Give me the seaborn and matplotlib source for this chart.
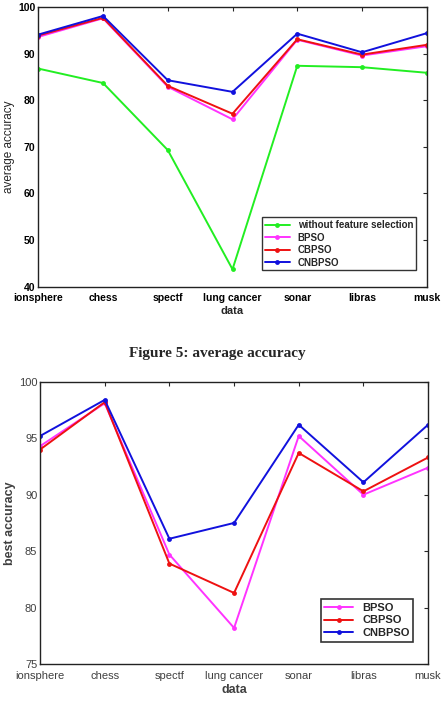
import pandas as pd
import seaborn as sns
import matplotlib.pyplot as plt

datasets = ['ionsphere', 'chess', 'spectf', 'lung cancer', 'sonar', 'libras', 'musk']

avg_nofs = [86.8, 83.7, 69.3, 43.7, 87.4, 87.1, 85.9]
avg_bpso = [93.6, 97.6, 82.9, 75.9, 93.0, 89.6, 91.6]
avg_cbpso = [93.9, 97.7, 83.1, 77.1, 93.1, 89.8, 91.9]
avg_cnbpso = [94.1, 98.1, 84.3, 81.8, 94.3, 90.3, 94.4]

best_bpso = [94.3, 98.1, 84.7, 78.2, 95.2, 90.0, 92.4]
best_cbpso = [94.0, 98.2, 83.9, 81.3, 93.7, 90.3, 93.3]
best_cnbpso = [95.2, 98.4, 86.1, 87.5, 96.2, 91.1, 96.2]

sns.set_style('white')
plt.rcParams['font.family'] = ['Liberation Sans', 'DejaVu Sans']

colors = {'without feature selection': '#22ee22', 'BPSO': '#ff33ff',
          'CBPSO': '#ee1111', 'CNBPSO': '#1111dd'}


def long_df(series):
    rows = []
    for name, vals in series.items():
        for d, v in zip(datasets, vals):
            rows.append({'data': d, 'acc': v, 'method': name})
    return pd.DataFrame(rows)


def style_axes(ax, bold):
    w = 'bold' if bold else 'normal'
    col = 'black' if bold else '#404040'
    for s in ax.spines.values():
        s.set_color('#222222')
        s.set_linewidth(1.0)
    ax.tick_params(direction='in', top=True, right=True, length=3,
                   labelsize=7.5 if bold else 8, labelcolor=col, pad=2)
    ax.tick_params(axis='x', pad=5)
    for lab in ax.get_xticklabels() + ax.get_yticklabels():
        lab.set_fontweight(w)
    ax.set_xlim(0, len(datasets) - 1)


fig = plt.figure(figsize=(4.45, 7.11), dpi=100)

# top: average accuracy
ax1 = fig.add_axes([0.086, 0.597, 0.873, 0.393])
df1 = long_df({'without feature selection': avg_nofs, 'BPSO': avg_bpso,
               'CBPSO': avg_cbpso, 'CNBPSO': avg_cnbpso})
sns.lineplot(data=df1, x='data', y='acc', hue='method', palette=colors,
             marker='o', markersize=3.5, markeredgewidth=0, linewidth=1.4,
             sort=False, ax=ax1)
ax1.set_ylim(40, 100)
ax1.set_yticks(range(40, 101, 10))
ax1.set_xlabel('data', fontsize=8, fontweight='bold', labelpad=2)
ax1.set_ylabel('average accuracy', fontsize=8.5, labelpad=2)
style_axes(ax1, True)
leg = ax1.legend(loc='lower right', frameon=True, fancybox=False, fontsize=7,
                 handlelength=2.6, borderpad=0.3, labelspacing=0.25,
                 bbox_to_anchor=(0.985, 0.04))
leg.get_frame().set_edgecolor('black')
leg.get_frame().set_linewidth(1.0)
for t in leg.get_texts():
    t.set_fontweight('bold')

fig.text(0.488, 0.503, 'Figure 5: average accuracy', ha='center', va='center',
         fontsize=11, fontweight='bold', family=['Liberation Serif', 'DejaVu Serif'])

# bottom: best accuracy
ax2 = fig.add_axes([0.09, 0.066, 0.872, 0.397])
df2 = long_df({'BPSO': best_bpso, 'CBPSO': best_cbpso, 'CNBPSO': best_cnbpso})
sns.lineplot(data=df2, x='data', y='acc', hue='method', palette=colors,
             marker='o', markersize=3.5, markeredgewidth=0, linewidth=1.4,
             sort=False, ax=ax2)
ax2.set_ylim(75, 100)
ax2.set_yticks(range(75, 101, 5))
ax2.set_xlabel('data', fontsize=9, fontweight='bold', color='#404040', labelpad=2)
ax2.set_ylabel('best accuracy', fontsize=9, fontweight='bold', color='#404040', labelpad=2)
style_axes(ax2, False)
leg2 = ax2.legend(loc='lower right', frameon=True, fancybox=False, fontsize=8,
                  handlelength=2.6, borderpad=0.3, labelspacing=0.25,
                  bbox_to_anchor=(0.975, 0.06))
leg2.get_frame().set_edgecolor('black')
leg2.get_frame().set_linewidth(1.2)
for t in leg2.get_texts():
    t.set_fontweight('bold')

fig.savefig('out.png', dpi=100)
